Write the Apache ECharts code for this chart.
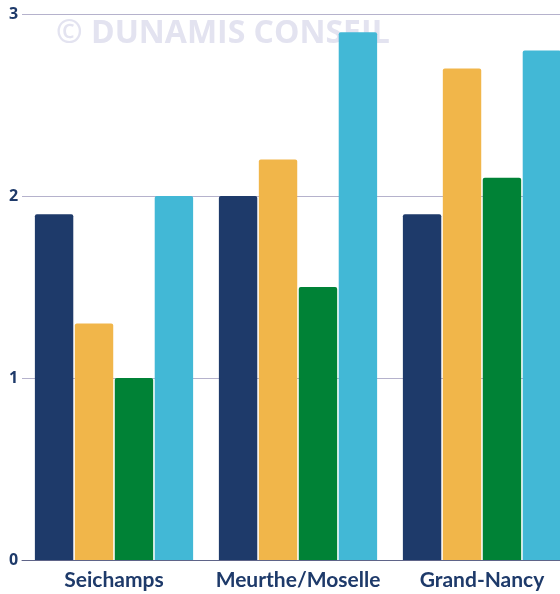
<!DOCTYPE html>
<html>
<head>
<meta charset="utf-8">
<script src="https://cdn.jsdelivr.net/npm/echarts@6/dist/echarts.min.js"></script>
<style>
  html, body { margin: 0; padding: 0; background: #fff; overflow: hidden; }
  #app { width: 574px; height: 594px; }
</style>
</head>
<body>
<div id="app"></div>
<script>
const categories = ['Seichamps', 'Meurthe/Moselle', 'Grand-Nancy'];
const serieA = [1.9, 2.0, 1.9];
const serieB = [1.3, 2.2, 2.7];
const serieC = [1.0, 1.5, 2.1];
const serieD = [2.0, 2.9, 2.8];
const colors = ['#1e3a6a', '#f1b64a', '#008236', '#42b8d6'];

const eChart = echarts.init(document.getElementById('app'));

function bar(name, values, color) {
  return {
    type: 'bar',
    name: name,
    data: values,
    barGap: '4%',
    barCategoryGap: '14%',
    itemStyle: {
      color: color,
      borderRadius: [2, 2, 0, 0],
    },
  };
}

const option = {
  backgroundColor: '#fff',
  animation: false,
  textStyle: { fontFamily: 'Open Sans' },
  grid: {
    left: 22,
    top: 14,
    right: 0,
    bottom: 34,
  },
  graphic: [
    {
      type: 'text',
      left: 56,
      top: 18,
      z: 0,
      style: {
        text: '© DUNAMIS CONSEIL',
        fill: '#e3e3f0',
        font: 'bold 32px "Open Sans"',
      },
    },
  ],
  xAxis: {
    type: 'category',
    data: categories,
    axisTick: { show: false },
    axisLine: { lineStyle: { color: '#5f6488', width: 1 } },
    axisLabel: {
      interval: 0,
      color: '#1e3a6a',
      fontFamily: 'Lato',
      fontWeight: 'bold',
      fontSize: 21,
      margin: 10,
    },
  },
  yAxis: {
    type: 'value',
    min: 0,
    max: 3,
    interval: 1,
    axisLine: { show: false },
    axisTick: { show: false },
    axisLabel: {
      color: '#1e3a6a',
      fontWeight: 'bold',
      fontSize: 16,
      align: 'left',
      margin: 13,
    },
    splitLine: { lineStyle: { color: '#b5b2cc', width: 1 } },
  },
  series: [
    bar('A', serieA, colors[0]),
    bar('B', serieB, colors[1]),
    bar('C', serieC, colors[2]),
    bar('D', serieD, colors[3]),
  ],
};
eChart.setOption(option);
</script>
</body>
</html>
